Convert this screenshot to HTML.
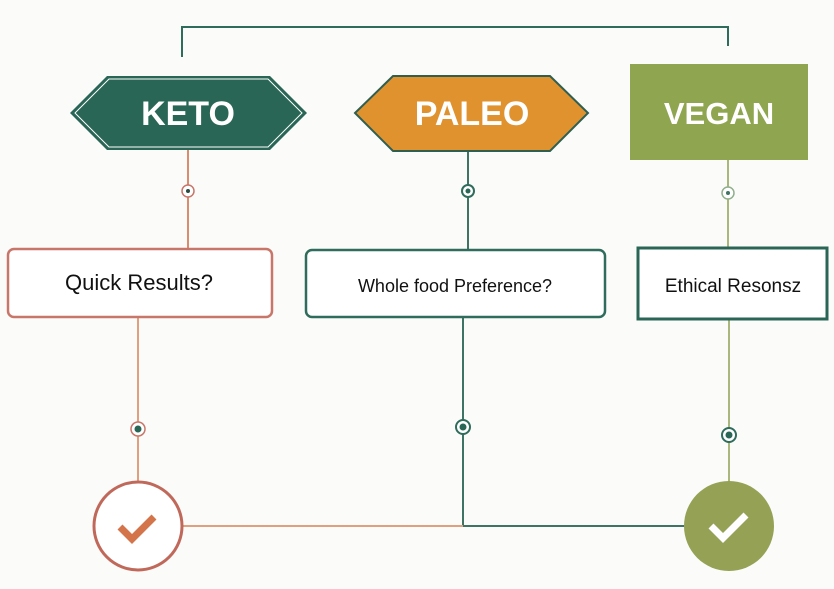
<!DOCTYPE html>
<html><head><meta charset="utf-8"><style>
html,body{margin:0;padding:0;background:#fbfbfa;}
svg{display:block}
text{font-family:"Liberation Sans",sans-serif;}
</style></head><body>
<svg width="834" height="589" viewBox="0 0 834 589" xmlns="http://www.w3.org/2000/svg">
<rect width="834" height="589" fill="#fbfbfa"/>
<polyline points="182,57 182,27 728,27 728,46" fill="none" stroke="#2f6c5c" stroke-width="2"/>
<line x1="188" y1="150" x2="188" y2="248" stroke="#d98c70" stroke-width="2"/>
<line x1="468" y1="151" x2="468" y2="249" stroke="#3f7464" stroke-width="2"/>
<line x1="728" y1="160" x2="728" y2="247" stroke="#a9b67c" stroke-width="2"/>
<line x1="138" y1="318" x2="138" y2="482" stroke="#e0a080" stroke-width="2"/>
<line x1="463" y1="318" x2="463" y2="526" stroke="#3f7464" stroke-width="2"/>
<line x1="729" y1="320" x2="729" y2="482" stroke="#a9b67c" stroke-width="2"/>
<line x1="183" y1="526" x2="463" y2="526" stroke="#e0a080" stroke-width="2"/>
<line x1="463" y1="526" x2="684" y2="526" stroke="#3f7464" stroke-width="2"/>
<circle cx="188" cy="191" r="6" fill="#fff" stroke="#c8766a" stroke-width="1.5"/><circle cx="188" cy="191" r="2" fill="#2a4a40"/>
<circle cx="468" cy="191" r="6" fill="#fff" stroke="#2f6c5c" stroke-width="2"/><circle cx="468" cy="191" r="2.5" fill="#2a6655"/>
<circle cx="728" cy="193" r="6" fill="#fff" stroke="#8fb08a" stroke-width="1.5"/><circle cx="728" cy="193" r="2" fill="#3f7464"/>
<circle cx="138" cy="429" r="7" fill="#fff" stroke="#c8766a" stroke-width="1.5"/><circle cx="138" cy="429" r="3.5" fill="#2a6655"/>
<circle cx="463" cy="427" r="7" fill="#fff" stroke="#2f6c5c" stroke-width="2"/><circle cx="463" cy="427" r="3.5" fill="#2a6655"/>
<circle cx="729" cy="435" r="7" fill="#fff" stroke="#2f6c5c" stroke-width="2"/><circle cx="729" cy="435" r="3.5" fill="#2a6655"/>
<polygon points="70,113 107,76 270,76 307,113 270,150 107,150" fill="#2a6655"/>
<polygon points="75,113 109,79 268,79 302,113 268,147 109,147" fill="none" stroke="#fff" stroke-width="1"/>
<text x="188" y="125" font-size="34" font-weight="bold" fill="#fff" text-anchor="middle">KETO</text>
<polygon points="355,113 393,76 550,76 588,113 550,151 393,151" fill="#e0922e" stroke="#2f5f50" stroke-width="2"/>
<text x="472" y="125" font-size="34" font-weight="bold" fill="#fff" text-anchor="middle">PALEO</text>
<rect x="630" y="64" width="178" height="96" fill="#8fa54f"/>
<text x="719" y="124" font-size="31" font-weight="bold" fill="#fff" text-anchor="middle">VEGAN</text>
<rect x="8" y="249" width="264" height="68" rx="6" fill="#fff" stroke="#c8766a" stroke-width="2.5"/>
<text x="139" y="290" font-size="22" fill="#111" text-anchor="middle">Quick Results?</text>
<rect x="306" y="250" width="299" height="67" rx="6" fill="#fff" stroke="#2f6c5c" stroke-width="2.5"/>
<text x="455" y="292" font-size="18" fill="#111" text-anchor="middle">Whole food Preference?</text>
<rect x="638" y="248" width="189" height="71" fill="#fff" stroke="#2a6655" stroke-width="3"/>
<text x="733" y="292" font-size="19" fill="#111" text-anchor="middle">Ethical Resonsz</text>
<circle cx="138" cy="526" r="44" fill="#fff" stroke="#c0695a" stroke-width="3"/>
<polyline points="120,527 132,539 154,517" fill="none" stroke="#d4744a" stroke-width="7"/>
<circle cx="729" cy="526" r="45" fill="#95a255"/>
<polyline points="711,526 723,538 746,515" fill="none" stroke="#fff" stroke-width="7"/>
</svg>
</body></html>
